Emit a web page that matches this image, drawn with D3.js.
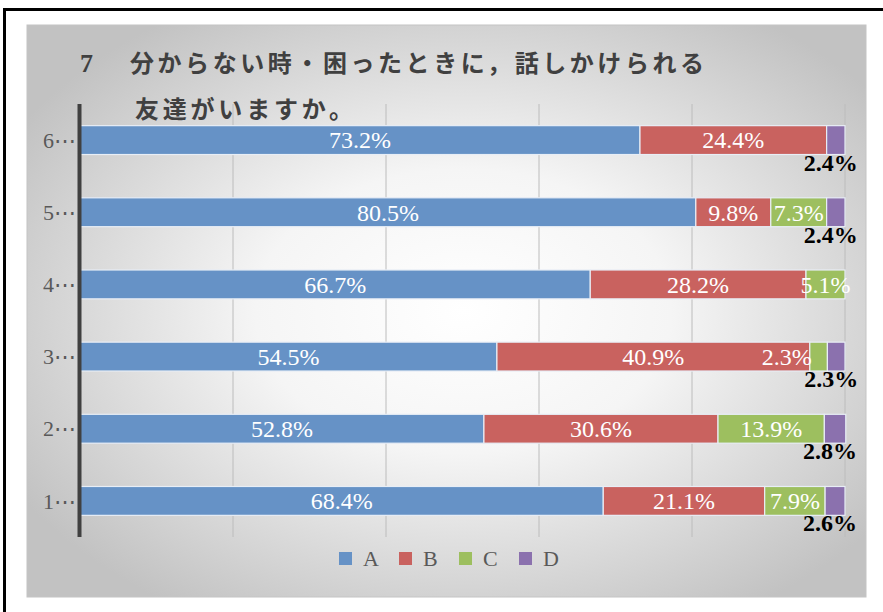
<!DOCTYPE html>
<html><head><meta charset="utf-8">
<script src="https://cdn.jsdelivr.net/npm/d3@7"></script>
<style>body{margin:0;background:#fff}svg{display:block}</style>
</head><body>
<script>
const categories = ["1⋯","2⋯","3⋯","4⋯","5⋯","6⋯"];
const seriesNames = ["A","B","C","D"];
const valuesA = [68.4, 52.8, 54.5, 66.7, 80.5, 73.2];
const valuesB = [21.1, 30.6, 40.9, 28.2, 9.8, 24.4];
const valuesC = [7.9, 13.9, 2.3, 5.1, 7.3, 0];
const valuesD = [2.6, 2.8, 2.3, 0, 2.4, 2.4];
const titleLine1 = "分からない時・困ったときに，話しかけられる";
const titleLine2 = "友達がいますか。";
const titleNumber = "7";
const colors = ["#6692C6", "#C9625F", "#9DBF5F", "#8B71AE"];

const W = 883, H = 612;
const svg = d3.select("body").append("svg").attr("width", W).attr("height", H);
const defs = svg.append("defs");
const rg = defs.append("radialGradient").attr("id","bg").attr("cx","52%").attr("cy","50%").attr("r","62%");
rg.append("stop").attr("offset","0%").attr("stop-color","#ffffff");
rg.append("stop").attr("offset","40%").attr("stop-color","#f5f5f5");
rg.append("stop").attr("offset","100%").attr("stop-color","#c2c2c2");

// outer frame (top and left)
svg.append("line").attr("x1",4.5).attr("x2",W).attr("y1",9.5).attr("y2",9.5).attr("stroke","#000").attr("stroke-width",3);
svg.append("line").attr("x1",4.5).attr("x2",4.5).attr("y1",8).attr("y2",H).attr("stroke","#000").attr("stroke-width",3);

// panel
svg.append("rect").attr("x",27).attr("y",25).attr("width",839).attr("height",572)
  .attr("fill","url(#bg)").attr("stroke","#c4c4c4").attr("stroke-width",1);

// title
const title = svg.append("g").attr("font-family","'Noto Sans CJK JP'").attr("font-weight",600)
  .attr("font-size",24).attr("fill","#404040");
title.append("text").attr("x",80).attr("y",72).attr("font-family","'Liberation Serif'").attr("font-weight","bold").attr("font-size",26).text(titleNumber);
title.append("text").attr("x",130).attr("y",72).attr("textLength",574).attr("lengthAdjust","spacing").text(titleLine1);
title.append("text").attr("x",135).attr("y",118).attr("textLength",218).attr("lengthAdjust","spacing").text(titleLine2);

// scales
const x = d3.scaleLinear().domain([0,100]).range([80,845]);
const y = d3.scaleBand().domain(categories.slice().reverse()).range([104,537]).paddingInner(0.6).paddingOuter(0.3);

// grid
svg.append("g").selectAll("line").data(x.ticks(5).filter(d=>d>0)).join("line")
  .attr("x1",d=>x(d)).attr("x2",d=>x(d)).attr("y1",104).attr("y2",537)
  .attr("stroke","#bcbcbc").attr("stroke-width",1);

// stacked data
const rows = categories.map((c,i)=>({cat:c, A:valuesA[i], B:valuesB[i], C:valuesC[i], D:valuesD[i]}));
const stack = d3.stack().keys(seriesNames)(rows);

const gBars = svg.append("g");
stack.forEach((s,si)=>{
  gBars.append("g").attr("fill",colors[si]).selectAll("rect").data(s.filter(d=>d[1]-d[0]>0)).join("rect")
    .attr("x",d=>x(d[0])).attr("width",d=>x(d[1])-x(d[0]))
    .attr("y",d=>y(d.data.cat)).attr("height",y.bandwidth())
    .attr("stroke","#e8eef6").attr("stroke-width",1.2);
});

// labels
const fmt = v => v.toFixed(1)+"%";
const gLab = svg.append("g").attr("font-family","'Liberation Serif'");
stack.forEach((s,si)=>{
  s.filter(d=>d[1]-d[0]>0).forEach(d=>{
    const v = d[1]-d[0];
    const x0 = x(d[0]), x1 = x(d[1]);
    const cy = y(d.data.cat) + y.bandwidth()/2;
    if (seriesNames[si]==="D") {
      gLab.append("text").attr("x",(x0+x1)/2-5).attr("y",y(d.data.cat)+y.bandwidth()+16)
        .attr("text-anchor","middle").attr("font-size",24).attr("font-weight","bold").attr("fill","#000").text(fmt(v));
    } else if (x1-x0 < 20) {
      gLab.append("text").attr("x",x0+2).attr("y",cy).attr("dy","0.35em")
        .attr("text-anchor","end").attr("font-size",24).attr("fill","#fff").text(fmt(v));
    } else {
      gLab.append("text").attr("x",(x0+x1)/2).attr("y",cy).attr("dy","0.35em")
        .attr("text-anchor","middle").attr("font-size",24).attr("fill","#fff").text(fmt(v));
    }
  });
});

// y axis
svg.append("line").attr("x1",79.5).attr("x2",79.5).attr("y1",104).attr("y2",537).attr("stroke","#404040").attr("stroke-width",4);
svg.append("g").selectAll("text").data(categories).join("text")
  .attr("x",76).attr("y",d=>y(d)+y.bandwidth()/2).attr("dy","0.35em").attr("text-anchor","end")
  .attr("font-family","'Liberation Serif'").attr("font-size",22).attr("fill","#595959").text(d=>d);

// legend
const legX = [339, 399, 459, 519];
const leg = svg.append("g");
seriesNames.forEach((n,i)=>{
  leg.append("rect").attr("x",legX[i]).attr("y",552).attr("width",13).attr("height",13).attr("fill",colors[i]);
  leg.append("text").attr("x",legX[i]+24).attr("y",558.5).attr("dy","0.35em").attr("font-family","'Liberation Serif'")
    .attr("font-size",22).attr("fill","#595959").text(n);
});
</script>
</body></html>
